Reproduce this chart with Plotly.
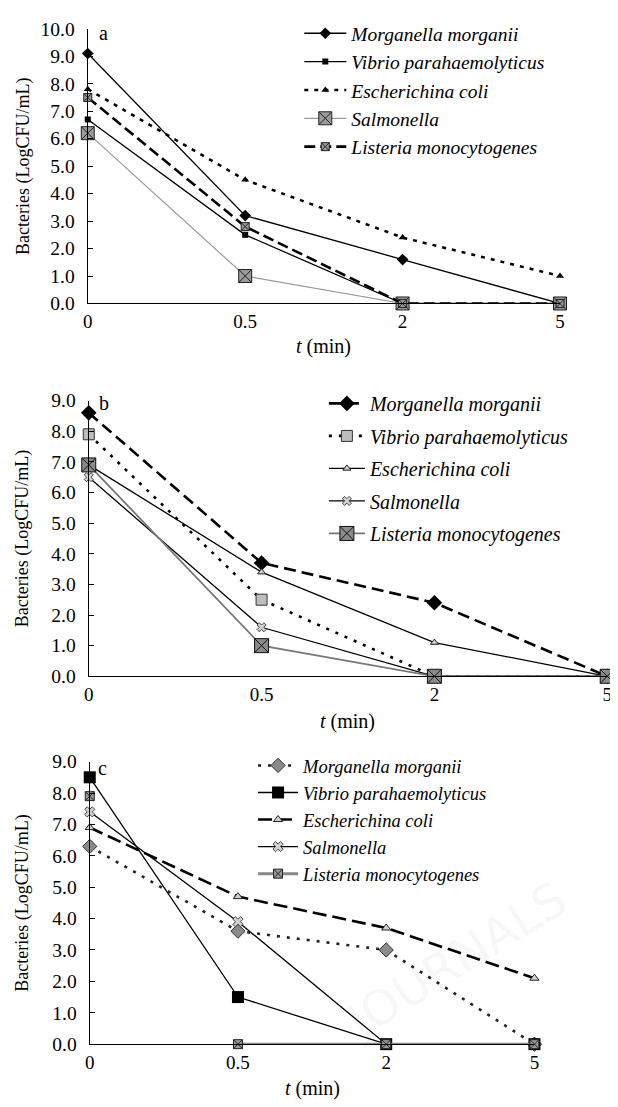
import plotly.graph_objects as go

W, H = 618, 1107
OFF = 8  # the page body margin shifts the figure by 8 px

times = ["0", "0.5", "2", "5"]
species = ["Morganella morganii", "Vibrio parahaemolyticus", "Escherichina coli",
           "Salmonella", "Listeria monocytogenes"]

# panel a
a_mm = [9.1, 3.2, 1.6, 0.0]
a_vp = [6.7, 2.5, 0.0, 0.0]
a_ec = [7.8, 4.5, 2.4, 1.0]
a_sa = [6.2, 1.0, 0.0, 0.0]
a_lm = [7.5, 2.8, 0.0, 0.0]
# panel b
b_mm = [8.6, 3.7, 2.4, 0.0]
b_vp = [7.9, 2.5, 0.0, 0.0]
b_ec = [6.9, 3.4, 1.1, 0.0]
b_sa = [6.5, 1.6, 0.0, 0.0]
b_lm = [6.9, 1.0, 0.0, 0.0]
# panel c
c_mm = [6.3, 3.6, 3.0, 0.0]
c_vp = [8.5, 1.5, 0.0, 0.0]
c_ec = [6.9, 4.7, 3.7, 2.1]
c_sa = [7.4, 3.9, 0.0, 0.0]
c_lm = [7.9, 0.0, 0.0, 0.0]

FONT = "'Liberation Serif', 'Times New Roman', Times, 'DejaVu Serif', serif"


def px_x(p):
    return (p - OFF) / W


def px_y(p):
    return (H - (p - OFF)) / H


fig = go.Figure()


def add(name, y, xa, ya, leg, line, marker, mode="lines+markers", showlegend=True, x=None, group=None):
    fig.add_trace(go.Scatter(
        x=x if x is not None else times, y=y, name="<i>%s</i>" % name, mode=mode,
        xaxis=xa, yaxis=ya, legend=leg, line=line, marker=marker,
        showlegend=showlegend, cliponaxis=False, legendgroup=group or (leg + name)))


# ---- panel a ----
add(species[0], a_mm, "x", "y", "legend", dict(color="black", width=1.3),
    dict(symbol="diamond", size=9, color="black"))
add(species[1], a_vp, "x", "y", "legend", dict(color="black", width=1.3),
    dict(symbol="square", size=6, color="black"))
add(species[2], a_ec, "x", "y", "legend", dict(color="black", width=2.5, dash="4px,6px"),
    dict(symbol="triangle-up", size=7, color="black"))
add(species[3], a_sa, "x", "y", "legend", dict(color="#999999", width=1.2),
    dict(symbol="square-x", size=13, color="#9a9a9a", line=dict(color="#222222", width=1)))
add(species[4], a_lm, "x", "y", "legend", dict(color="black", width=2.6, dash="11px,5px"),
    dict(symbol="square-x", size=8, color="#999999", line=dict(color="#222222", width=1)))

# ---- panel b ----
add(species[0], b_mm, "x2", "y2", "legend2", dict(color="black", width=2.6, dash="12px,6px"),
    dict(symbol="diamond", size=12, color="black"))
add(species[1], b_vp, "x2", "y2", "legend2", dict(color="black", width=2.6, dash="3px,7px"),
    dict(symbol="square", size=11, color="#bdbdbd", line=dict(color="#333333", width=1)))
add(species[2], b_ec, "x2", "y2", "legend2", dict(color="black", width=1.3),
    dict(symbol="triangle-up", size=7, color="#cfcfcf", line=dict(color="#222222", width=1)))
add(species[3], b_sa, "x2", "y2", "legend2", dict(color="black", width=1.3),
    dict(symbol="x", size=8, color="#cfcfcf", line=dict(color="#222222", width=0.8)))
add(species[4], b_lm, "x2", "y2", "legend2", dict(color="#777777", width=1.8),
    dict(symbol="square-x", size=14, color="#8a8a8a", line=dict(color="#111111", width=1)))

# ---- panel c ----
add(species[0], c_mm, "x3", "y3", "legend3", dict(color="#222222", width=2.6, dash="3px,7px"),
    dict(symbol="diamond", size=11, color="#8a8a8a", line=dict(color="#333333", width=1)))
add(species[1], c_vp, "x3", "y3", "legend3", dict(color="black", width=1.3),
    dict(symbol="square", size=12, color="black"))
add(species[2], c_ec, "x3", "y3", "legend3", dict(color="black", width=2.6, dash="14px,6px"),
    dict(symbol="triangle-up", size=8, color="#d0d0d0", line=dict(color="#222222", width=1)))
add(species[3], c_sa, "x3", "y3", "legend3", dict(color="black", width=1.3),
    dict(symbol="x", size=9, color="#d0d0d0", line=dict(color="#222222", width=0.8)))
# Listeria c: the first point has no connecting segment in the reference
add(species[4], c_lm[:1], "x3", "y3", "legend3", dict(color="#888888", width=3),
    dict(symbol="square-x", size=9, color="#9a9a9a", line=dict(color="#222222", width=1)),
    mode="markers", showlegend=False, x=times[:1], group="c_lm")
add(species[4], c_lm[1:], "x3", "y3", "legend3", dict(color="#888888", width=3),
    dict(symbol="square-x", size=9, color="#9a9a9a", line=dict(color="#222222", width=1)),
    x=times[1:], group="c_lm")

# ---- axes ----
panels = [
    ("xaxis", "yaxis", (84, 564), (19, 299), 10, "y", "x"),
    ("xaxis2", "yaxis2", (85, 612), (398, 679), 9, "y2", "x2"),
    ("xaxis3", "yaxis3", (86, 538), (766, 1054), 9, "y3", "x3"),
]
layout = {}
for xa, ya, (x0, x1), (y0, y1), ymax, yref, xref in panels:
    layout[xa] = dict(domain=[px_x(x0), px_x(x1)], anchor=yref, type="category",
                      categoryorder="array", categoryarray=times,
                      range=[0, 3], showline=True, linecolor="black", linewidth=1.3,
                      ticks="", showgrid=False, zeroline=False,
                      tickfont=dict(family=FONT, size=19, color="black"),
                      ticklabelstandoff=1)
    layout[ya] = dict(domain=[px_y(y1), px_y(y0)], anchor=xref, range=[0, ymax],
                      dtick=1, tickformat=".1f", showline=True, linecolor="black",
                      linewidth=1.3, ticks="inside", ticklen=5, tickcolor="black",
                      showgrid=False, zeroline=False,
                      tickfont=dict(family=FONT, size=19.5, color="black"),
                      ticklabelstandoff=8)
fig.update_layout(**layout)

ann = []
for (x0, x1), (y0, y1), lab, (lx, ly), ty in [((84, 564), (19, 299), "a", (100, 23), 343),
                                            ((85, 612), (398, 679), "b", (100, 400), 725),
                                            ((86, 538), (766, 1054), "c", (99, 773), 1099)]:
    ann.append(dict(x=px_x((x0 + x1) / 2), y=px_y(ty), xref="paper", yref="paper",
                    xanchor="center", yanchor="middle",
                    text="<i>t</i> (min)", showarrow=False,
                    font=dict(family=FONT, size=20, color="black")))
    ann.append(dict(x=px_x(18), y=px_y((y0 + y1) / 2), xref="paper", yref="paper",
                    xanchor="center", yanchor="middle",
                    text="Bacteries (LogCFU/mL)", textangle=-90, showarrow=False,
                    font=dict(family=FONT, size=18, color="black")))
    ann.append(dict(x=px_x(lx), y=px_y(ly), xref="paper", yref="paper", text=lab,
                    xanchor="center", yanchor="middle",
                    showarrow=False, font=dict(family=FONT, size=20, color="black")))

# faint publisher watermark in the lower right (kept fully inside the page)
ann.append(dict(x=px_x(458), y=px_y(968), xref="paper", yref="paper", text="JOURNALS",
                textangle=-32, showarrow=False, xanchor="center", yanchor="middle",
                font=dict(family="DejaVu Sans", size=48, color="rgba(0,0,0,0.05)")))

leg_common = dict(xanchor="left", yanchor="top", bgcolor="rgba(0,0,0,0)",
                  borderwidth=0, itemclick=False)
fig.update_layout(
    width=W, height=H, margin=dict(l=0, r=0, t=0, b=0),
    paper_bgcolor="white", plot_bgcolor="white",
    font=dict(family=FONT, color="black"),
    annotations=ann,
    legend=dict(x=px_x(299), y=px_y(4), font=dict(family=FONT, size=19.5),
                itemwidth=42, traceorder="normal", **leg_common),
    legend2=dict(x=px_x(324), y=px_y(381), font=dict(family=FONT, size=20),
                 itemwidth=36, traceorder="grouped", tracegroupgap=3.5, **leg_common),
    legend3=dict(x=px_x(252), y=px_y(751), font=dict(family=FONT, size=18.5),
                 itemwidth=40, traceorder="normal", **leg_common),
)

fig.write_html("out.html")
